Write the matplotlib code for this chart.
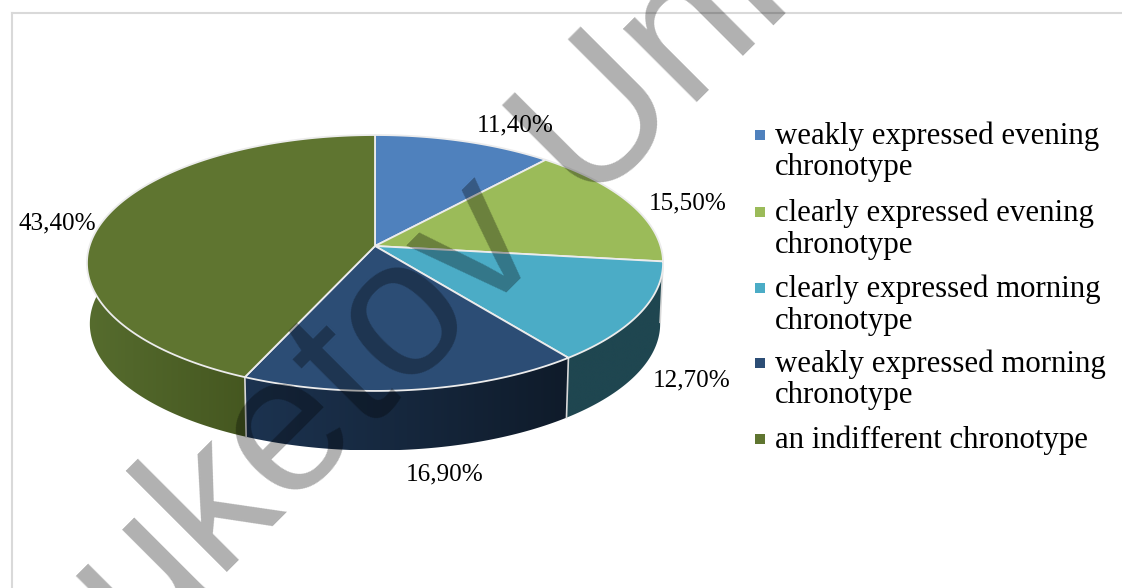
import numpy as np
import matplotlib
matplotlib.use("Agg")
import matplotlib.pyplot as plt
from matplotlib.colors import LinearSegmentedColormap
from matplotlib.patches import Polygon

# percentages, clockwise from the top of the pie
categories = ["weakly expressed evening\nchronotype",
              "clearly expressed evening\nchronotype",
              "clearly expressed morning\nchronotype",
              "weakly expressed morning\nchronotype",
              "an indifferent chronotype"]
values = [11.4, 15.5, 12.7, 16.9, 43.4]
colors = ["#4F81BD", "#9BBB59", "#4BACC6", "#2C4D75", "#5F7530"]
side_left = ["#3b618e", "#748c43", "#1f4650", "#1c3350", "#566c2e"]
side_right = ["#3b618e", "#748c43", "#1f4650", "#0f1b2a", "#455720"]
label_pos = [(515, 125), (688, 203), (692, 380), (445, 474), (57, 223)]

plt.rcParams["font.family"] = ["Liberation Serif", "DejaVu Serif"]

cx, cy = 375, 246
k = 0.1327
R = 285.5
S = 125.7
depth = 61


def project(t, shrink=1.0, drop=0):
    # t is clockwise from the top, slight perspective on the disc
    x = np.sin(t)
    y = np.cos(t)
    w = 1 + k * y
    return cx + shrink * R * x / w, cy - shrink * S * y / w + drop


fig = plt.figure(figsize=(11.22, 5.88), dpi=100)
ax = fig.add_axes([0, 0, 1, 1])

# chart border
ax.plot([12, 12], [13, 588], color="#d9d9d9", lw=1.5)
ax.plot([12, 1122], [13, 13], color="#d9d9d9", lw=1.5)

edges = np.cumsum([0] + values) / sum(values) * 2 * np.pi

# side wall, only the part that faces us, gradient clipped to the wall shape
for i in range(len(values)):
    ts = np.linspace(edges[i], edges[i + 1], 300)
    ts = ts[(ts > np.pi / 2 - 0.1) & (ts < 3 * np.pi / 2 + 0.1)]
    if len(ts) < 2:
        continue
    x1, y1 = project(ts)
    x2, y2 = project(ts[::-1], 0.99, depth)
    px = np.r_[x1, x2]
    py = np.r_[y1, y2]
    poly = Polygon(np.c_[px, py], closed=True, fc="none", ec="none", transform=ax.transData)
    ax.add_patch(poly)
    cmap = LinearSegmentedColormap.from_list("wall", [side_left[i], side_right[i]])
    im = ax.imshow(np.linspace(0, 1, 256).reshape(1, -1), cmap=cmap, aspect="auto",
                   extent=[px.min(), px.max(), py.max(), py.min()], zorder=2,
                   interpolation="bilinear")
    im.set_clip_path(poly)

ax.set_xlim(0, 1122)
ax.set_ylim(588, 0)
ax.axis("off")

# white seams on the wall
for e in edges:
    if np.pi / 2 < e < 3 * np.pi / 2:
        x1, y1 = project(e)
        x2, y2 = project(e, 0.99, depth)
        ax.plot([x1, x2], [y1, y2], color="#d8d8d8", lw=1.2, zorder=3)

# top of the pie
for i in range(len(values)):
    ts = np.linspace(edges[i], edges[i + 1], 200)
    x, y = project(ts)
    ax.fill(np.r_[cx, x], np.r_[cy, y], facecolor=colors[i], edgecolor="#ececec",
            lw=1.3, joinstyle="round", zorder=4)

for v, (lx, ly) in zip(values, label_pos):
    ax.text(lx, ly, f"{v:.2f}%".replace(".", ","), fontsize=18.1, ha="center",
            va="center", color="black", zorder=6)

# legend
leg_y = [134, 211, 287, 362, 438]
for name, c, y in zip(categories, colors, leg_y):
    ax.plot([760], [y + 1], marker="s", ms=7.9, color=c, mew=0, zorder=6)
    lines = name.split("\n")
    for n, line in enumerate(lines):
        ax.text(775, y + 2.5 + n * 31.5, line, fontsize=22.2, ha="left", va="center",
                color="black", zorder=6)

# watermark over everything
ax.text(49, 751, "Buketov Uni", fontsize=141, family=["Liberation Sans"],
        rotation=45, rotation_mode="anchor", ha="left", va="baseline",
        color="black", alpha=0.31, zorder=10, clip_on=True)

fig.savefig("out.png", dpi=100)
